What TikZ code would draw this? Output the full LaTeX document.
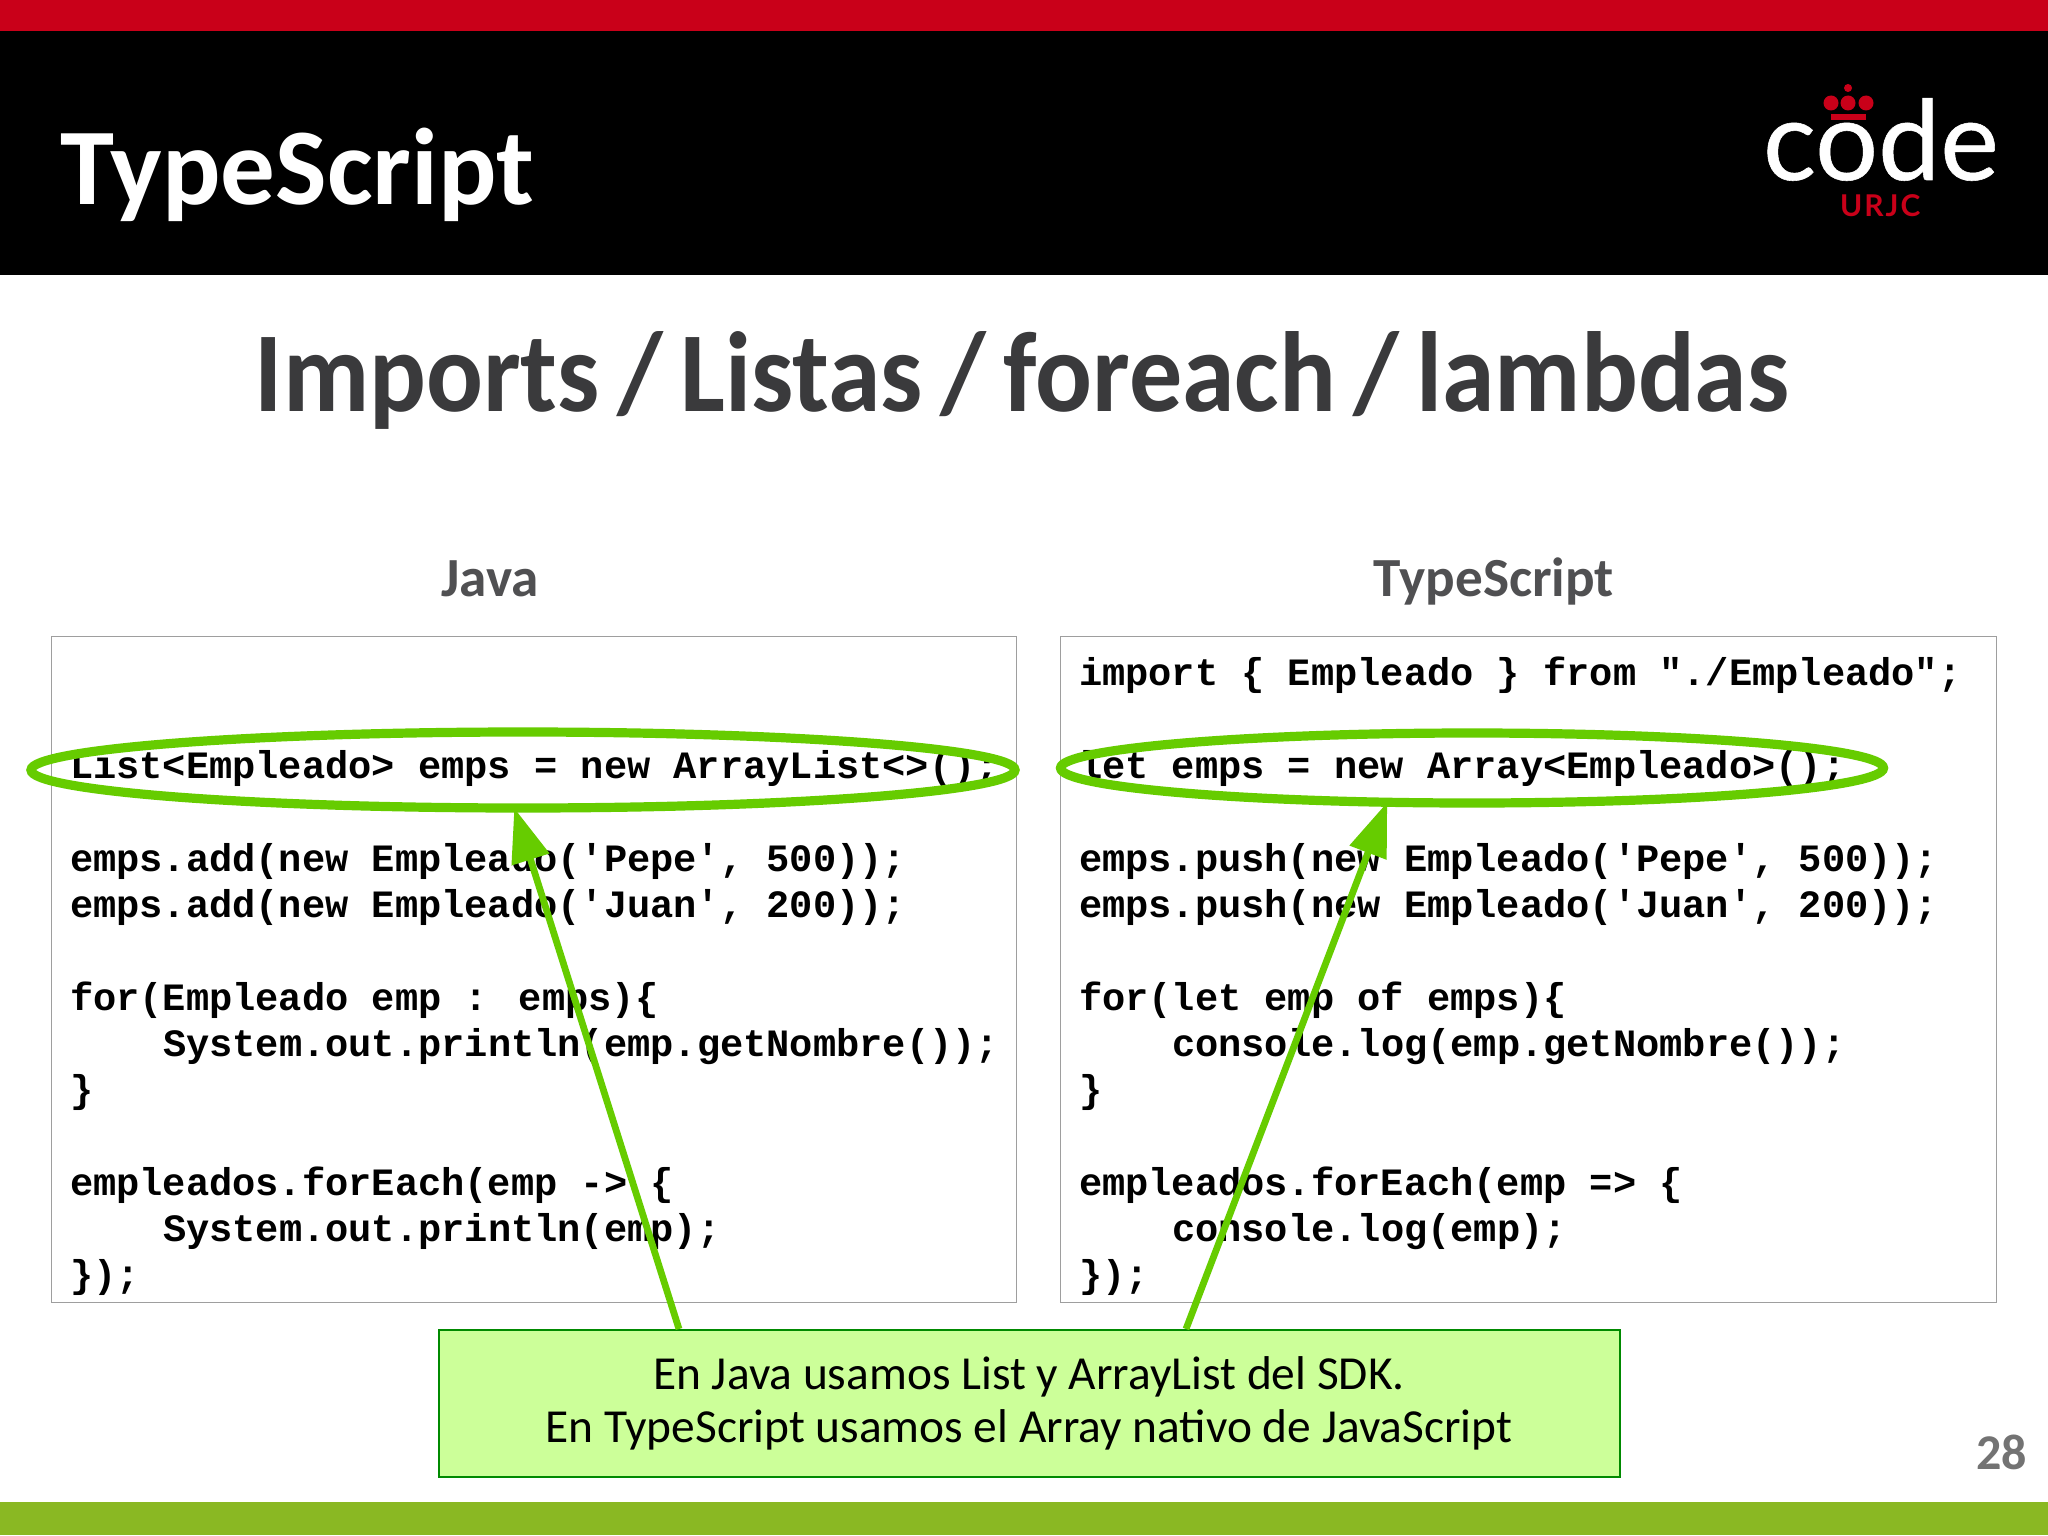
\documentclass[tikz,border=0pt]{standalone}
\usepackage{fontspec}
\usepackage{graphicx}
\usetikzlibrary{shapes.geometric,arrows.meta}
\setmainfont{Carlito}
\newfontfamily\codefont{Liberation Mono}[BoldFont={Liberation Mono Bold}]
\newfontfamily\logofont{Lato}[FakeBold=0.5]
\newfontfamily\urjcfont{Lato Bold}
\definecolor{topred}{HTML}{C90019}
\definecolor{barGreen}{HTML}{8AB823}
\definecolor{headGrey}{HTML}{3A3A3C}
\definecolor{subGrey}{HTML}{505052}
\definecolor{markGreen}{HTML}{66CC00}
\definecolor{noteFill}{HTML}{CCFF99}
\definecolor{noteLine}{HTML}{008A00}
\tikzset{
  txt/.style={inner sep=0pt,outer sep=0pt,anchor=base west},
  codetext/.style={txt,font=\codefont\bfseries\fontsize{19.35}{19.35}\selectfont,text=black},
  codebox/.style={draw=black!38,line width=0.6pt,fill=white},
  oval/.style={ellipse,draw=markGreen,line width=4.6pt,inner sep=0pt,outer sep=0pt},
  pointer/.style={draw=markGreen,fill=markGreen,line width=3.4pt,-{Triangle[length=27pt,width=19pt]}},
}
\begin{document}
\begin{tikzpicture}[x=0.5pt,y=-0.5pt]
\useasboundingbox (0,0) rectangle (2048,1535);
\fill[white] (0,0) rectangle (2048,1535);
\fill[topred] (0,0) rectangle (2048,31);
\fill[black] (0,31) rectangle (2048,275);
\fill[barGreen] (0,1502) rectangle (2048,1535);
% header
\node[txt,text=white,font=\bfseries\fontsize{54.5}{54.5}\selectfont] (title) at (60,205) {TypeScript};
% logo
\node[txt,text=white,font=\logofont\fontsize{55.5}{55.5}\selectfont] (logo) at (1763,180) {code};
\fill[topred] (1831,103) circle[radius=7.5] (1848,103) circle[radius=7.5] (1866,103) circle[radius=7.5] (1848,88) circle[radius=4];
\fill[topred] (1831,114) rectangle (1866,120);
\node[txt,text=topred,font=\urjcfont\fontsize{15}{15}\selectfont] (urjc) at (1840,217) {U\kern1pt R\kern1pt J\kern1pt C};
% headings
\node[txt,text=headGrey,font=\bfseries\fontsize{57}{57}\selectfont,anchor=base] (head) at (1022,411) {\scalebox{0.93}[1]{\spaceskip=9.4pt Imports / Listas / foreach / lambdas}};
\node[txt,text=subGrey,font=\bfseries\fontsize{27.6}{27.6}\selectfont,anchor=base] (javaLabel) at (490,596) {Java};
\node[txt,text=subGrey,font=\bfseries\fontsize{27.6}{27.6}\selectfont,anchor=base] (tsLabel) at (1494,596) {TypeScript};
% boxes
\node[codebox,inner sep=0pt,minimum width=482.5pt,minimum height=333pt,anchor=north west] (javaBox) at (51,636) {};
\node[codebox,inner sep=0pt,minimum width=468pt,minimum height=333pt,anchor=north west] (tsBox) at (1060,636) {};
% java code
\node[codetext] (j1) at (70,778) {List<Empleado> emps = new ArrayList<>();};
\node[codetext] (j2) at (70,871) {emps.add(new Empleado('Pepe', 500));};
\node[codetext] (j3) at (70,917) {emps.add(new Empleado('Juan', 200));};
\node[codetext] (j4) at (70,1010) {for(Empleado emp : emps)\{};
\node[codetext] (j5) at (163,1056) {System.out.println(emp.getNombre());};
\node[codetext] (j6) at (70,1102) {\}};
\node[codetext] (j7) at (70,1195) {empleados.forEach(emp -> \{};
\node[codetext] (j8) at (163,1241) {System.out.println(emp);};
\node[codetext] (j9) at (70,1287) {\});};
% ts code
\node[codetext] (t0) at (1079,685) {import \{ Empleado \} from "./Empleado";};
\node[codetext] (t1) at (1079,778) {let emps = new Array<Empleado>();};
\node[codetext] (t2) at (1079,871) {emps.push(new Empleado('Pepe', 500));};
\node[codetext] (t3) at (1079,917) {emps.push(new Empleado('Juan', 200));};
\node[codetext] (t4) at (1079,1010) {for(let emp of emps)\{};
\node[codetext] (t5) at (1172,1056) {console.log(emp.getNombre());};
\node[codetext] (t6) at (1079,1102) {\}};
\node[codetext] (t7) at (1079,1195) {empleados.forEach(emp => \{};
\node[codetext] (t8) at (1172,1241) {console.log(emp);};
\node[codetext] (t9) at (1079,1287) {\});};
% ovals
\node[oval,minimum width=492pt,minimum height=38pt] (javaOval) at (523,770) {};
\node[oval,minimum width=411.5pt,minimum height=35pt] (tsOval) at (1472,768) {};
% note
\node[draw=noteLine,fill=noteFill,line width=1pt,inner sep=0pt,minimum width=590.5pt,minimum height=73.5pt,anchor=north west] (note) at (438,1329) {};
\node[inner sep=0pt,text=black,align=center,font=\fontsize{23.7}{26.6}\selectfont] (noteText) at (1029,1403) {En Java usamos List y ArrayList del SDK.\\En TypeScript usamos el Array nativo de JavaScript};
% connectors
\coordinate (javaStart) at (679,1329);
\coordinate (tsStart) at (1186,1329);
\draw[pointer] (javaStart) -- (javaOval.257);
\draw[pointer] (tsStart) -- (tsOval.202.1);
\node[txt,text=black!55,font=\bfseries\fontsize{25}{25}\selectfont] (pageNo) at (1976,1469) {28};
\end{tikzpicture}
\end{document}
